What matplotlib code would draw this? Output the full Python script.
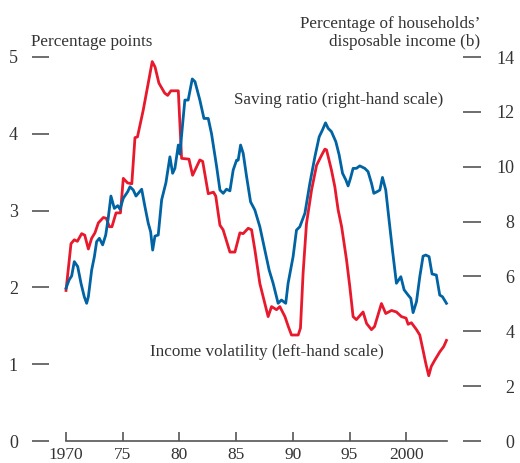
import numpy as np
import matplotlib
matplotlib.use('Agg')
import matplotlib.pyplot as plt

plt.rcParams['font.family'] = ['Liberation Serif', 'DejaVu Serif']

# Income volatility (left-hand scale, percentage points)
vol_years = [1970.0, 1970.44, 1970.73, 1971.0, 1971.38, 1971.65, 1971.97, 1972.26, 1972.55,
             1972.85, 1973.29, 1973.55, 1973.82, 1974.05, 1974.41, 1974.8, 1975.05, 1975.43,
             1975.8, 1976.08, 1976.3, 1976.81, 1977.25, 1977.6, 1977.85, 1978.19, 1978.7,
             1978.96, 1979.25, 1979.9, 1980.19, 1980.84, 1981.16, 1981.8, 1982.05, 1982.54,
             1983.0, 1983.2, 1983.57, 1983.85, 1984.45, 1984.89, 1985.33, 1985.62, 1986.06,
             1986.36, 1986.65, 1987.09, 1987.53, 1987.82, 1988.12, 1988.56, 1988.85, 1989.3,
             1989.6, 1989.88, 1990.47, 1990.67, 1990.9, 1991.2, 1991.65, 1992.09, 1992.53,
             1992.82, 1992.97, 1993.4, 1993.7, 1993.99, 1994.3, 1994.73, 1995.02, 1995.31,
             1995.6, 1996.19, 1996.5, 1996.93, 1997.2, 1997.81, 1998.19, 1998.7, 1999.13,
             1999.57, 1999.98, 2000.16, 2000.45, 2000.9, 2001.19, 2001.48, 2001.72, 2001.98,
             2002.2, 2002.5, 2002.95, 2003.3, 2003.54]
vol_values = [1.96, 2.57, 2.62, 2.60, 2.70, 2.68, 2.50, 2.64, 2.71,
              2.84, 2.91, 2.90, 2.79, 2.79, 2.97, 2.97, 3.42, 3.36,
              3.35, 3.95, 3.96, 4.31, 4.66, 4.94, 4.87, 4.66, 4.53,
              4.50, 4.56, 4.56, 3.68, 3.67, 3.46, 3.66, 3.64, 3.22,
              3.24, 3.19, 2.81, 2.75, 2.46, 2.46, 2.71, 2.70, 2.77,
              2.75, 2.49, 2.05, 1.79, 1.62, 1.75, 1.71, 1.75, 1.62,
              1.49, 1.38, 1.38, 1.47, 2.18, 2.83, 3.27, 3.59, 3.72,
              3.80, 3.79, 3.53, 3.31, 3.01, 2.79, 2.36, 2.01, 1.62,
              1.58, 1.68, 1.53, 1.45, 1.49, 1.79, 1.66, 1.70, 1.68,
              1.62, 1.60, 1.52, 1.54, 1.45, 1.38, 1.18, 1.01, 0.85,
              0.97, 1.05, 1.16, 1.23, 1.31]

# Saving ratio (right-hand scale, % of households' disposable income)
sav_years = [1970.0, 1970.27, 1970.5, 1970.73, 1971.03, 1971.32, 1971.61, 1971.82, 1971.97,
             1972.26, 1972.5, 1972.7, 1972.94, 1973.23, 1973.5, 1973.72, 1973.96, 1974.26,
             1974.56, 1974.76, 1975.05, 1975.44, 1975.64, 1975.93, 1976.17, 1976.67, 1976.96,
             1977.25, 1977.46, 1977.64, 1977.84, 1978.13, 1978.43, 1978.81, 1979.16, 1979.4,
             1979.6, 1979.9, 1980.04, 1980.34, 1980.48, 1980.77, 1981.13, 1981.37, 1981.8,
             1982.16, 1982.54, 1982.83, 1983.28, 1983.57, 1983.86, 1984.15, 1984.45, 1984.74,
             1985.04, 1985.18, 1985.39, 1985.62, 1985.92, 1986.27, 1986.65, 1987.09, 1987.53,
             1987.91, 1988.26, 1988.7, 1988.99, 1989.37, 1989.58, 1990.02, 1990.32, 1990.61,
             1991.06, 1991.5, 1991.94, 1992.32, 1992.61, 1992.88, 1993.11, 1993.4, 1993.79,
             1994.08, 1994.38, 1994.67, 1994.87, 1995.08, 1995.31, 1995.6, 1995.9, 1996.34,
             1996.63, 1996.93, 1997.14, 1997.43, 1997.67, 1997.9, 1998.19, 1998.48, 1998.78,
             1999.13, 1999.52, 1999.81, 2000.16, 2000.4, 2000.6, 2000.9, 2001.19, 2001.48,
             2001.72, 2002.01, 2002.27, 2002.65, 2002.95, 2003.19, 2003.54]
sav_values = [5.57, 5.87, 6.02, 6.54, 6.36, 5.75, 5.26, 5.02, 5.26,
              6.23, 6.72, 7.27, 7.39, 7.15, 7.51, 8.12, 8.93, 8.48,
              8.58, 8.45, 8.85, 9.09, 9.27, 9.15, 8.93, 9.18, 8.54,
              7.94, 7.63, 6.96, 7.47, 7.51, 8.79, 9.42, 10.36, 9.76,
              9.94, 10.79, 10.46, 11.82, 12.43, 12.43, 13.20, 13.10, 12.43,
              11.76, 11.76, 11.20, 10.00, 9.15, 9.03, 9.18, 9.12, 9.88,
              10.24, 10.24, 10.79, 10.49, 9.64, 8.72, 8.42, 7.81, 6.96,
              6.23, 5.75, 5.02, 5.14, 5.02, 5.75, 6.72, 7.69, 7.81,
              8.30, 9.40, 10.36, 11.09, 11.34, 11.60, 11.40, 11.28, 10.91,
              10.43, 9.76, 9.52, 9.30, 9.58, 9.94, 9.94, 10.03, 9.94,
              9.82, 9.40, 9.03, 9.09, 9.15, 9.61, 9.15, 8.06, 6.96,
              5.75, 5.99, 5.51, 5.32, 5.20, 4.68, 5.08, 5.99, 6.74,
              6.78, 6.72, 6.09, 6.05, 5.32, 5.26, 5.02]

x_ticks = [1970, 1975, 1980, 1985, 1990, 1995, 2000]
x_labels = ['1970', '75', '80', '85', '90', '95', '2000']
left_ticks = [0, 1, 2, 3, 4, 5]
right_ticks = [0, 2, 4, 6, 8, 10, 12, 14]

RED = '#E8192C'
BLUE = '#0063A3'
TXT = '#333333'
TICK = '#555555'

W, H = 520, 463
fig = plt.figure(figsize=(W / 100, H / 100), dpi=100)
ax = fig.add_axes([49 / W, 22 / H, (463 - 49) / W, (441 - 57) / H])
ax2 = ax.twinx()

ax.plot(vol_years, vol_values, color=RED, lw=2.0, solid_joinstyle='round', clip_on=False)
ax2.plot(sav_years, sav_values, color=BLUE, lw=2.0, solid_joinstyle='round', clip_on=False)

ax.set_xlim(1968.5, 2005)
ax.set_ylim(0, 5)
ax2.set_ylim(0, 14)

for a in (ax, ax2):
    for s in a.spines.values():
        s.set_visible(False)
ax.spines['bottom'].set_visible(True)
ax.spines['bottom'].set_bounds(1970, 2003.6)
ax.spines['bottom'].set_color(TICK)
ax.spines['bottom'].set_linewidth(1.2)

ax.set_xticks(x_ticks)
ax.set_xticklabels(x_labels)
ax.tick_params(axis='x', direction='in', length=6.5, width=1.2, color=TICK,
               labelsize=12.5, labelcolor=TXT, pad=4)

ax.set_yticks(left_ticks)
ax.tick_params(axis='y', direction='out', length=12.5, width=1.2, color=TICK,
               labelsize=13, labelcolor=TXT, pad=10)

ax2.set_yticks(right_ticks)
ax2.tick_params(axis='y', direction='out', length=13, width=1.2, color=TICK,
                labelsize=13, labelcolor=TXT, pad=24)
for lab in ax2.get_yticklabels():
    lab.set_horizontalalignment('right')

ax.text(1984.8, 4.44, 'Saving ratio (right-hand scale)', fontsize=12.3,
        color=TXT, va='center', ha='left')
ax.text(1977.4, 1.16, 'Income volatility (left-hand scale)', fontsize=12.3,
        color=TXT, va='center', ha='left')

fig.text(31 / W, 1 - 42 / H, 'Percentage points', fontsize=12.3,
         color=TXT, va='center', ha='left')
fig.text(480 / W, 1 - 33 / H, "Percentage of households\u2019\ndisposable income (b)",
         fontsize=12.3, color=TXT, va='center', ha='right', linespacing=1.25)

fig.savefig('out.png', dpi=100)
